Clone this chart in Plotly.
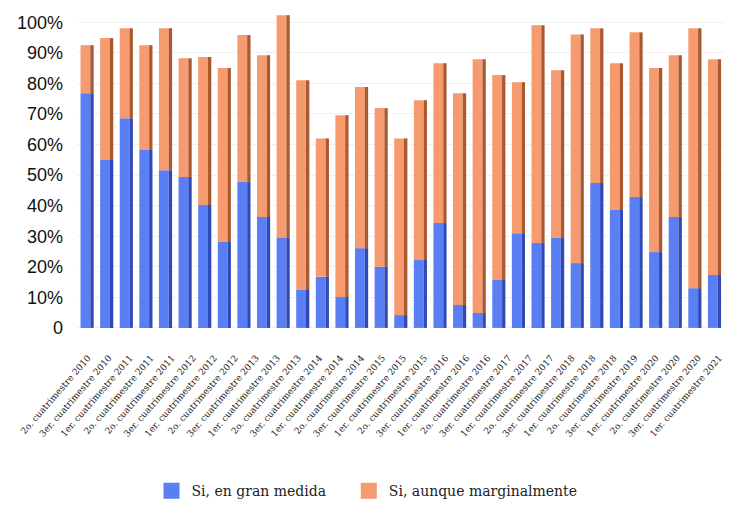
import plotly.graph_objects as go
import numpy as np

# 33 bars (in %)
gran_medida = [76.8, 54.9, 68.6, 58.2, 51.6, 49.4, 40.2, 28.1, 47.7, 36.3, 29.4,
               12.4, 16.7, 10.1, 26.1, 20.0, 4.2, 22.2, 34.3, 7.5, 4.9, 15.7,
               31.0, 27.8, 29.4, 21.2, 47.4, 38.6, 42.8, 24.8, 36.3, 13.0, 17.3]
marginal = [15.7, 39.9, 29.4, 34.3, 46.4, 38.8, 48.4, 56.9, 48.1, 52.9, 72.9,
            68.6, 45.3, 59.5, 52.7, 51.9, 57.8, 52.3, 52.3, 69.3, 83.0, 67.0,
            49.4, 71.2, 54.9, 74.8, 50.6, 48.0, 53.9, 60.2, 52.9, 85.0, 70.6]

# 31 tick labels as printed under the bars
tick_labels = [
    "2o. cuatrimestre 2010", "3er. cuatrimestre 2010", "1er. cuatrimestre 2011",
    "2o. cuatrimestre 2011", "2o. cuatrimestre 2011", "3er. cuatrimestre 2012",
    "1er. cuatrimestre 2012", "2o. cuatrimestre 2012", "3er. cuatrimestre 2013",
    "1er. cuatrimestre 2013", "2o. cuatrimestre 2013", "3er. cuatrimestre 2014",
    "1er. cuatrimestre 2014", "2o. cuatrimestre 2014", "3er. cuatrimestre 2015",
    "1er. cuatrimestre 2015", "2o. cuatrimestre 2015", "3er. cuatrimestre 2016",
    "1er. cuatrimestre 2016", "2o. cuatrimestre 2016", "3er. cuatrimestre 2017",
    "1er. cuatrimestre 2017", "2o. cuatrimestre 2017", "3er. cuatrimestre 2018",
    "1er. cuatrimestre 2018", "2o. cuatrimestre 2018", "3er. cuatrimestre 2019",
    "1er. cuatrimestre 2020", "2o. cuatrimestre 2020", "3er. cuatrimestre 2020",
    "1er. cuatrimestre 2021",
]

y_ticks = [0, 10, 20, 30, 40, 50, 60, 70, 80, 90, 100]
y_tick_text = ["0", "10%", "20%", "30%", "40%", "50%", "60%", "70%", "80%", "90%", "100%"]

series_names = ["Si, en gran medida", "Si, aunque marginalmente"]
front_colors = ["#5A7EF3", "#F59B6F"]
side_colors = ["#2F4AB5", "#A9592F"]

n = len(gran_medida)
x = list(range(n))
tick_pos = list(np.linspace(0.05, n - 0.75, len(tick_labels)))

fig = go.Figure()
legend_pad = ["\u00a0" * 4, ""]
for i, (vals, base) in enumerate([(gran_medida, None), (marginal, gran_medida)]):
    # front face
    fig.add_trace(go.Bar(
        x=x, y=vals, base=base, marker=dict(color=front_colors[i], line=dict(width=0)),
        width=0.5, offset=-0.32, showlegend=False, hoverinfo="skip",
    ))
    # shaded side face (3-D look)
    fig.add_trace(go.Bar(
        x=x, y=vals, base=base, marker=dict(color=side_colors[i], line=dict(width=0)),
        width=0.17, offset=0.18, showlegend=False, hoverinfo="skip",
    ))
    # legend entry
    fig.add_trace(go.Scatter(
        x=[None], y=[None], mode="markers", name=series_names[i] + legend_pad[i],
        marker=dict(symbol="square", size=16, color=front_colors[i]),
    ))

fig.update_layout(
    barmode="overlay",
    width=734, height=508,
    margin=dict(l=77, r=10, t=10, b=170, autoexpand=False),
    paper_bgcolor="white", plot_bgcolor="white",
    showlegend=True,
    legend=dict(
        orientation="h", xref="container", yref="container",
        x=0.5, xanchor="center", y=0.033, yanchor="middle",
        font=dict(family="DejaVu Serif", size=14, color="#222"),
        itemwidth=30, traceorder="normal", itemsizing="trace",
    ),
    font=dict(family="Liberation Sans", color="#222"),
)
fig.update_xaxes(
    range=[-0.5, n - 0.5], automargin=False,
    tickmode="array", tickvals=tick_pos, ticktext=tick_labels,
    tickangle=-49, showgrid=False, zeroline=False, showline=False,
    tickfont=dict(family="DejaVu Serif", size=9, color="#222"),
    ticks="", ticklabelstandoff=12,
)
fig.update_yaxes(
    range=[-3.3, 104], automargin=False,
    tickmode="array", tickvals=y_ticks, ticktext=y_tick_text,
    showgrid=True, gridcolor="#f1f1f1", zeroline=False, showline=False,
    tickfont=dict(family="Liberation Sans", size=18, color="#111"),
    ticklabelstandoff=13,
)

fig.write_html("out.html", config={"displayModeBar": False})

# remove the browser's default page margin so the figure sits at (0, 0)
with open("out.html", "r", encoding="utf-8") as f:
    html = f.read()
html = html.replace("<head>", "<head><style>html,body{margin:0;padding:0;}</style>", 1)
with open("out.html", "w", encoding="utf-8") as f:
    f.write(html)
